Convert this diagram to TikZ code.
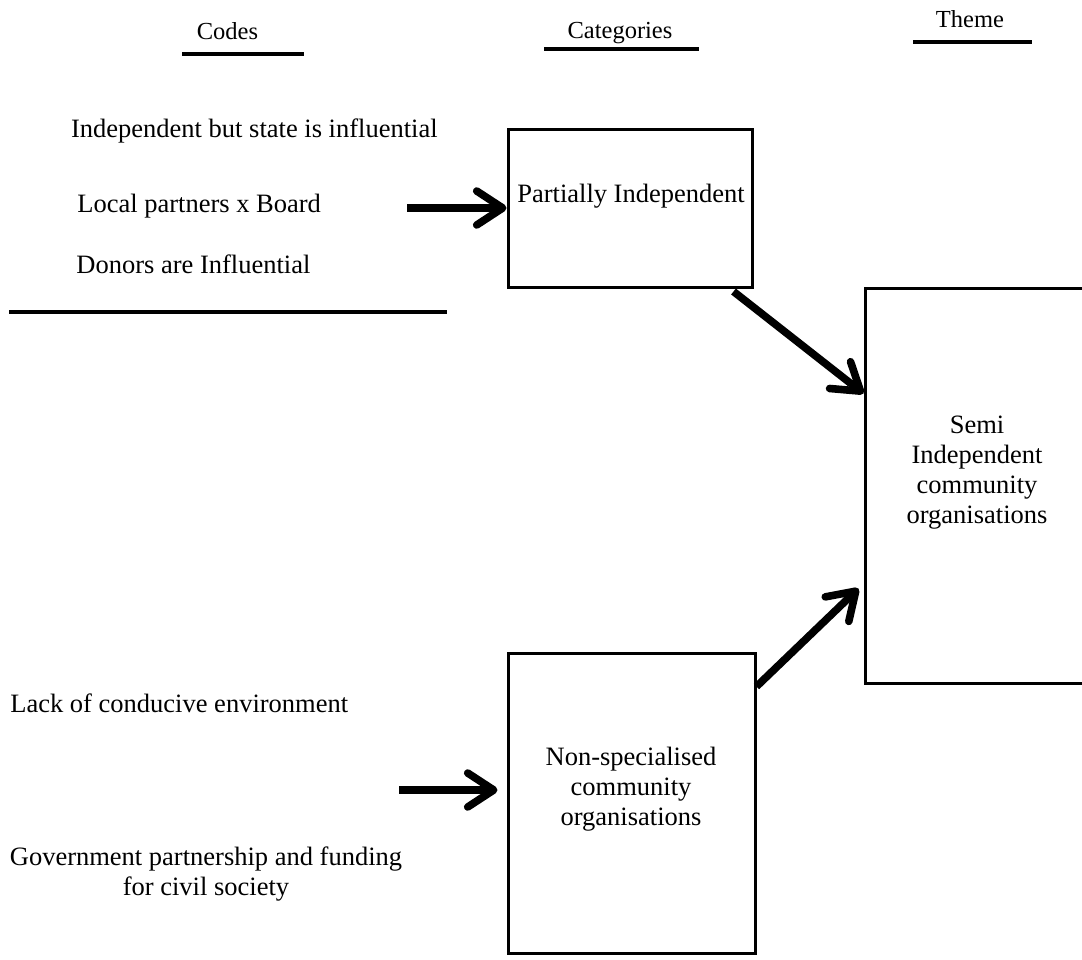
\documentclass[tikz,border=0pt]{standalone}
\usepackage{fontspec}
\setmainfont{Liberation Serif}
\usetikzlibrary{arrows.meta}
\begin{document}
\begin{tikzpicture}[x=0.5pt,y=-0.5pt,
  hdr/.style={inner sep=0pt, anchor=base, font=\fontsize{12.25}{14}\selectfont},
  txt/.style={inner sep=0pt, font=\fontsize{13.25}{15}\selectfont},
  uline/.style={line width=2pt},
  box/.style={draw, line width=1.5pt, inner sep=0pt},
  bigarrow/.style={line width=3.8pt, -{Straight Barb[length=13pt,width=17pt,round]}}]
\useasboundingbox (0,0) rectangle (1082,959);
\clip (0,0) rectangle (1082,959);

% headers
\node[hdr] (hcodes) at (227.5,39) {Codes};
\node[hdr] (hcat) at (620,38) {Categories};
\node[hdr] (htheme) at (970,27) {Theme};
\draw[uline] (182,54) -- (304,54);
\draw[uline] (544,49) -- (699,49);
\draw[uline] (913,42) -- (1032,42);

% codes
\node[txt, anchor=base west] (c1) at (70.7,137) {Independent but state is influential};
\node[txt, anchor=base west] (c2) at (77,212) {Local partners x Board};
\node[txt, anchor=base west] (c3) at (76,273) {Donors are Influential};
\draw[uline] (9,312) -- (447,312);
\node[txt, anchor=base west] (c4) at (10,712) {Lack of conducive environment};
\node[txt, align=center] (c5) at (206,874) {Government partnership and funding\\for civil society};

% boxes
\node[box, minimum width=122pt, minimum height=79pt] (p1) at (630,208) {};
\node[box, minimum width=123.5pt, minimum height=150pt] (p2) at (631.5,803) {};
\node[box, minimum width=112.5pt, minimum height=197.5pt] (p3) at (977.5,485.5) {};

\node[txt, anchor=base] (t1) at (631,202) {Partially Independent};
\node[txt, align=center] (t2) at (631,789) {Non-specialised\\community\\organisations};
\node[txt, align=center] (t3) at (977,473) {Semi\\ Independent\\community\\organisations};

% arrows
\coordinate (a1s) at (407,208);
\coordinate (a3s) at (399,790);
\draw[bigarrow] (a1s) -- (p1.west);
\draw[bigarrow] ([xshift=-10pt,yshift=-1.5pt]p1.south east) -- ([yshift=-53.5pt]p3.north west);
\draw[bigarrow] (a3s) -- ([xshift=-4.5pt,yshift=6.5pt]p2.west);
\draw[bigarrow] ([yshift=-17.5pt]p2.north east) -- ([xshift=-2.5pt,yshift=-151pt]p3.north west);
\end{tikzpicture}
\end{document}
